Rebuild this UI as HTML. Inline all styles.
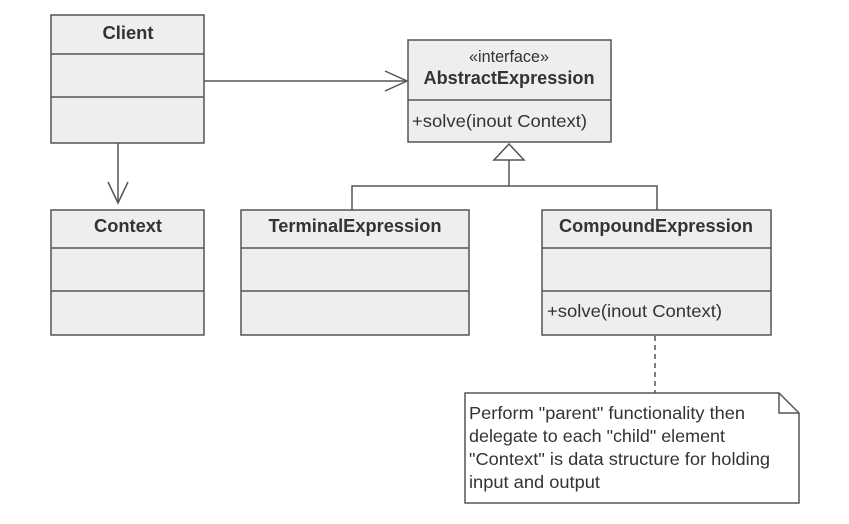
<!DOCTYPE html>
<html><head><style>body{margin:0;background:#fff}</style></head><body>
<svg width="849" height="519" xmlns="http://www.w3.org/2000/svg" font-family="Liberation Sans, sans-serif" fill="#333">
<g stroke="#555" stroke-width="1.5" fill="#eeeeee">
<rect x="51" y="15" width="153" height="128"/>
<line x1="51" y1="54" x2="204" y2="54"/><line x1="51" y1="97" x2="204" y2="97"/>
<rect x="408" y="40" width="203" height="102"/>
<line x1="408" y1="100" x2="611" y2="100"/>
<rect x="51" y="210" width="153" height="125"/>
<line x1="51" y1="248" x2="204" y2="248"/><line x1="51" y1="291" x2="204" y2="291"/>
<rect x="241" y="210" width="228" height="125"/>
<line x1="241" y1="248" x2="469" y2="248"/><line x1="241" y1="291" x2="469" y2="291"/>
<rect x="542" y="210" width="229" height="125"/>
<line x1="542" y1="248" x2="771" y2="248"/><line x1="542" y1="291" x2="771" y2="291"/>
</g>
<g stroke="#555" stroke-width="1.5" fill="none">
<line x1="204" y1="81" x2="407" y2="81"/>
<polyline points="385,71 407,81 385,91"/>
<line x1="118" y1="143" x2="118" y2="203"/>
<polyline points="108,182 118,203 128,182"/>
<polygon points="509,144 494,160 524,160" fill="#fff"/>
<line x1="509" y1="160" x2="509" y2="186"/>
<polyline points="352,210 352,186 657,186 657,210"/>
<line x1="655" y1="336" x2="655" y2="393" stroke-dasharray="5,4"/>
<path d="M465,393 H779 L799,413 V503 H465 Z" fill="#fff"/>
<polyline points="779,393 779,413 799,413"/>
</g>
<g font-size="18" font-weight="bold" text-anchor="middle">
<text x="128" y="39" textLength="51" lengthAdjust="spacingAndGlyphs">Client</text>
<text x="509" y="84" textLength="171" lengthAdjust="spacingAndGlyphs">AbstractExpression</text>
<text x="128" y="232" textLength="68" lengthAdjust="spacingAndGlyphs">Context</text>
<text x="355" y="232" textLength="173" lengthAdjust="spacingAndGlyphs">TerminalExpression</text>
<text x="656" y="232" textLength="194" lengthAdjust="spacingAndGlyphs">CompoundExpression</text>
</g>
<text x="509" y="62" font-size="17" text-anchor="middle" textLength="80" lengthAdjust="spacingAndGlyphs">«interface»</text>
<g font-size="17.5">
<text x="412" y="127" textLength="175" lengthAdjust="spacingAndGlyphs">+solve(inout Context)</text>
<text x="547" y="317" textLength="175" lengthAdjust="spacingAndGlyphs">+solve(inout Context)</text>
<text x="469" y="419" textLength="276" lengthAdjust="spacingAndGlyphs">Perform "parent" functionality then</text>
<text x="469" y="442" textLength="256" lengthAdjust="spacingAndGlyphs">delegate to each "child" element</text>
<text x="469" y="465" textLength="301" lengthAdjust="spacingAndGlyphs">"Context" is data structure for holding</text>
<text x="469" y="488" textLength="131" lengthAdjust="spacingAndGlyphs">input and output</text>
</g>
</svg>
</body></html>
